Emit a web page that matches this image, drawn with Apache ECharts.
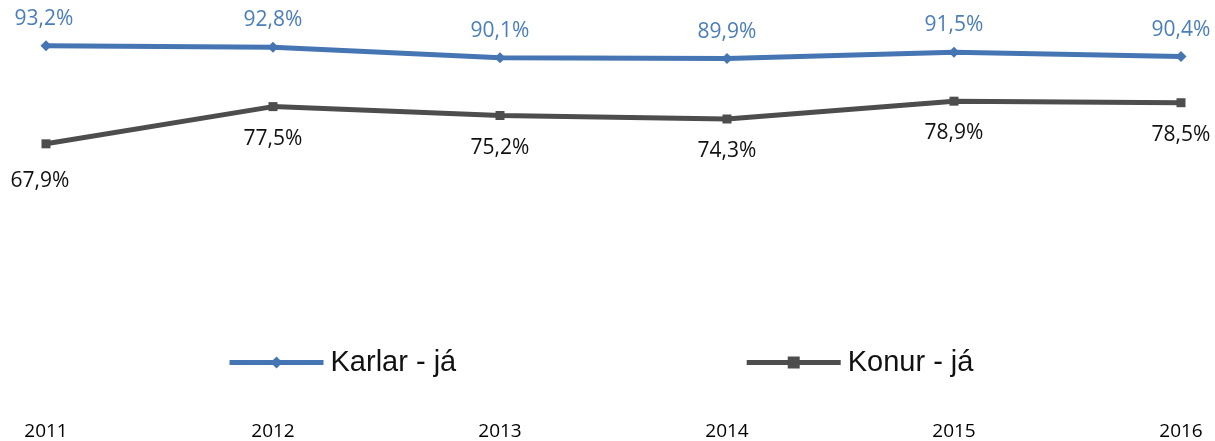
<!DOCTYPE html>
<html>
<head>
<meta charset="utf-8">
<script src="https://cdn.jsdelivr.net/npm/echarts@6/dist/echarts.min.js"></script>
<style>
  html, body { margin: 0; padding: 0; background: #fff; }
  #chart { width: 1215px; height: 441px; }
</style>
</head>
<body>
<div id="chart"></div>
<script>
// ár og hlutföll
var years = ['2011', '2012', '2013', '2014', '2015', '2016'];
var karlar = [93.2, 92.8, 90.1, 89.9, 91.5, 90.4];
var konur = [67.9, 77.5, 75.2, 74.3, 78.9, 78.5];
var seriesNames = ['Karlar - já', 'Konur - já'];

var blue = '#4675b3';
var dark = '#4d4d4d';

function pct(p) {
  return String(p.value.toFixed(1)).replace('.', ',') + '%';
}

// fyrsti merkimiðinn aðeins til vinstri, eins og í Excel
function firstShift(arr, off) {
  return arr.map(function (v, i) {
    return i === 0 ? { value: v, label: { offset: off } } : v;
  });
}

var myChart = echarts.init(document.getElementById('chart'));
var option = {
  animation: false,
  grid: { left: 46, right: 34, top: 19.4, bottom: 30.2 },
  legend: {
    left: 227,
    top: 348,
    padding: 0,
    itemWidth: 94,
    itemHeight: 15,
    itemGap: 288,
    lineStyle: { width: 5 },
    textStyle: { fontFamily: 'Liberation Sans', fontSize: 29, color: '#111', padding: [0, 0, 0, 2] },
    data: seriesNames
  },
  xAxis: {
    type: 'category',
    boundaryGap: false,
    data: years,
    axisLine: { show: false },
    axisTick: { show: false },
    axisLabel: { margin: 15, color: '#000', fontSize: 19, fontFamily: 'Open Sans' }
  },
  yAxis: {
    type: 'value',
    min: 0,
    max: 100,
    show: false,
    splitLine: { show: false }
  },
  series: [
    {
      name: seriesNames[0],
      type: 'line',
      data: firstShift(karlar, [-2, 0]),
      symbol: 'diamond',
      symbolSize: 11,
      lineStyle: { width: 5, color: blue },
      itemStyle: { color: blue },
      label: {
        show: true,
        position: 'top',
        distance: 11,
        color: '#4a7ebb',
        fontSize: 21,
        fontFamily: 'Open Sans',
        formatter: pct
      }
    },
    {
      name: seriesNames[1],
      type: 'line',
      data: firstShift(konur, [-6, 5]),
      symbol: 'rect',
      symbolSize: 9,
      lineStyle: { width: 5, color: dark },
      itemStyle: { color: dark },
      label: {
        show: true,
        position: 'bottom',
        distance: 17,
        color: '#111',
        fontSize: 21,
        fontFamily: 'Open Sans',
        formatter: pct
      }
    }
  ]
};
myChart.setOption(option);
</script>
</body>
</html>
